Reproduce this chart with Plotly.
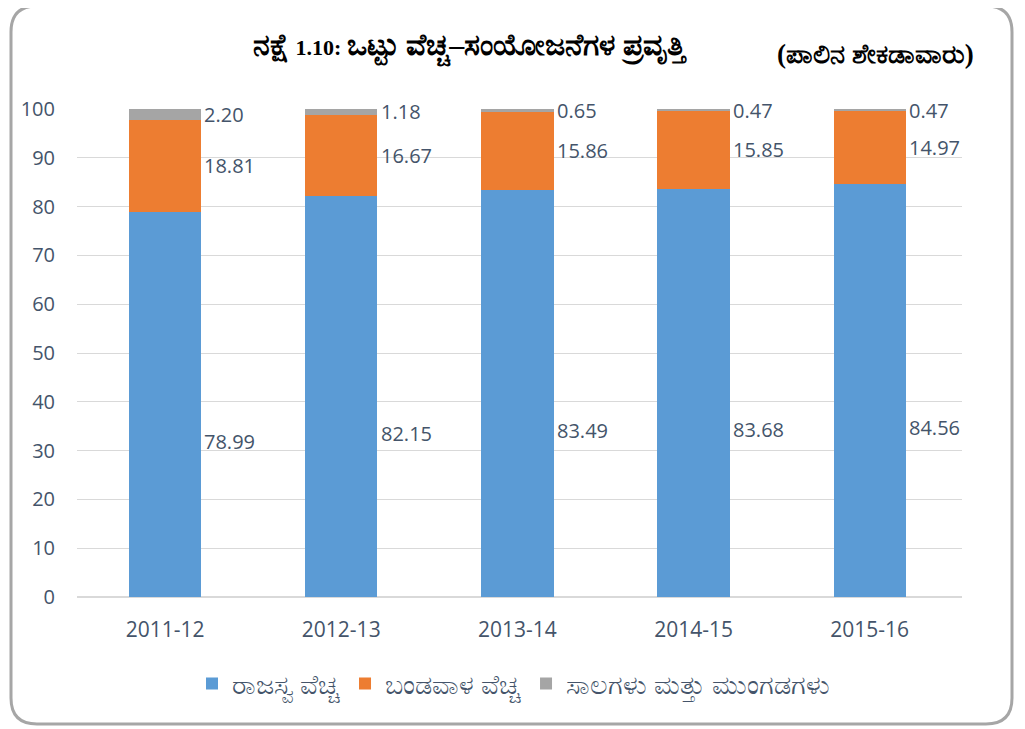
import plotly.graph_objects as go

years = ["2011-12", "2012-13", "2013-14", "2014-15", "2015-16"]
revenue = [78.99, 82.15, 83.49, 83.68, 84.56]
capital = [18.81, 16.67, 15.86, 15.85, 14.97]
loans = [2.20, 1.18, 0.65, 0.47, 0.47]
y_ticks = [0, 10, 20, 30, 40, 50, 60, 70, 80, 90, 100]

names = ["ರಾಜಸ್ವ ವೆಚ್ಚ", "ಬಂಡವಾಳ ವೆಚ್ಚ", "ಸಾಲಗಳು ಮತ್ತು ಮುಂಗಡಗಳು"]
colors = ["#5b9bd5", "#ed7d31", "#a5a5a5"]
series = [revenue, capital, loans]

OFF = 8  # browser body margin
W, H = 1025 - OFF, 729 - OFF
L, R, T, B = 77 - OFF, 63, 109 - OFF, 132
pw, ph = W - L - R, H - T - B

fig = go.Figure()
for name, col, vals in zip(names, colors, series):
    fig.add_trace(go.Bar(x=years, y=vals, name=name, marker=dict(color=col, line=dict(width=0))))

font_lbl = "Open Sans, Lato, sans-serif"
bar_half_px = 0.41 * pw / len(years) / 2
for i, y in enumerate(years):
    base = 0
    for k, vals in enumerate(series):
        v = vals[i]
        fig.add_annotation(x=y, y=base + v / 2, text=f"{v:.2f}", showarrow=False,
                           xanchor="left", yanchor="middle", xshift=bar_half_px + 1,
                           yshift=-37 if k == 0 else 0,
                           font=dict(size=20, color="#44546a", family=font_lbl))
        base += v

def px_x(p):
    return (p - OFF - L) / pw

def px_y(p):
    return (H - B - (p - OFF)) / ph

x0, x1, y0, y1 = px_x(11), px_x(1012), px_y(724), px_y(6)
rx, ry = 26 / pw, 26 / ph
path = (f"M {x0+rx},{y1} L {x1-rx},{y1} Q {x1},{y1} {x1},{y1-ry} L {x1},{y0+ry} "
        f"Q {x1},{y0} {x1-rx},{y0} L {x0+rx},{y0} Q {x0},{y0} {x0},{y0+ry} "
        f"L {x0},{y1-ry} Q {x0},{y1} {x0+rx},{y1} Z")
fig.add_shape(type="path", path=path, xref="paper", yref="paper",
              line=dict(color="#a6a6a6", width=3), layer="below")

kn = "font-size:30px"
fig.add_annotation(text=(f"<b><span style='{kn}'>ನಕ್ಷೆ</span> 1.10: "
                         f"<span style='{kn}'>ಒಟ್ಟು ವೆಚ್ಚ–ಸಂಯೋಜನೆಗಳ ಪ್ರವೃತ್ತಿ</span></b>"),
                   xref="paper", yref="paper",
                   x=px_x(470), y=px_y(47), showarrow=False, xanchor="center", yanchor="middle",
                   font=dict(size=22, color="#000000", family="Liberation Serif, serif"))
fig.add_annotation(text="<b>(ಪಾಲಿನ ಶೇಕಡಾವಾರು)</b>", xref="paper", yref="paper",
                   x=px_x(875), y=px_y(54), showarrow=False, xanchor="center", yanchor="middle",
                   font=dict(size=27, color="#000000", family="Liberation Serif, serif"))

fig.update_layout(
    width=W, height=H, barmode="stack", bargap=0.59,
    margin=dict(l=L, r=R, t=T, b=B, pad=0),
    paper_bgcolor="white", plot_bgcolor="white",
    showlegend=True,
    legend=dict(orientation="h", x=px_x(514), xanchor="center", y=px_y(684), yanchor="middle",
                font=dict(size=27, color="#44546a", family=font_lbl), itemwidth=30,
                traceorder="normal"),
    xaxis=dict(type="category", showgrid=False, showline=False, ticks="",
               ticklabelstandoff=18,
               tickfont=dict(size=21, color="#44546a", family=font_lbl)),
    yaxis=dict(range=[0, 100], tickvals=y_ticks, showgrid=True, gridcolor="#d9d9d9",
               gridwidth=1, zeroline=True, zerolinecolor="#d9d9d9", showline=False, ticks="",
               ticklabelstandoff=21,
               tickfont=dict(size=20, color="#44546a", family=font_lbl)),
)

fig.write_html("out.html")
